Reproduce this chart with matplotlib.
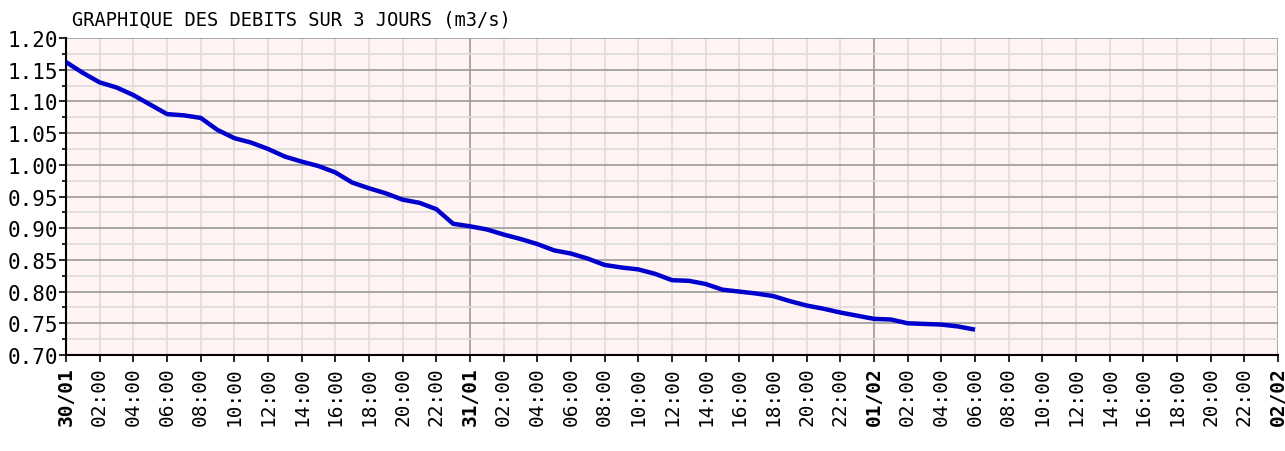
import matplotlib
matplotlib.use("Agg")
from matplotlib import pyplot as plt
from matplotlib.ticker import MultipleLocator, FixedLocator

# hours since 30/01 00:00
hours = list(range(0, 55))
debits = [
    1.162, 1.145, 1.130, 1.122, 1.110, 1.095, 1.080, 1.078, 1.074, 1.055,
    1.042, 1.035, 1.025, 1.013, 1.005, 0.998, 0.988, 0.972, 0.963, 0.955,
    0.945, 0.940, 0.930, 0.907, 0.903, 0.898, 0.890, 0.883, 0.875, 0.865,
    0.860, 0.852, 0.842, 0.838, 0.835, 0.828, 0.818, 0.817, 0.812, 0.803,
    0.800, 0.797, 0.793, 0.785, 0.778, 0.773, 0.767, 0.762, 0.757, 0.756,
    0.750, 0.749, 0.748, 0.745, 0.740,
]
day_labels = {0: "30/01", 24: "31/01", 48: "01/02", 72: "02/02"}

xticks = list(range(0, 73, 2))
xlabels = [day_labels.get(h, f"{h % 24:02d}:00") for h in xticks]

fig = plt.figure(figsize=(12.85, 4.52), dpi=100)
ax = fig.add_axes([66 / 1285, 1 - 356 / 452, 1212 / 1285, 317 / 452])
ax.set_facecolor("#fff3f3")

ax.set_xlim(0, 72)
ax.set_ylim(0.70, 1.20)

# grid
ax.yaxis.set_major_locator(MultipleLocator(0.05))
ax.yaxis.set_minor_locator(MultipleLocator(0.025))
ax.xaxis.set_major_locator(FixedLocator(xticks))
ax.grid(which="minor", axis="y", color="#dcdcdc", lw=1.2)
ax.grid(which="major", axis="y", color="#9a9a9a", lw=1.2)
for h in xticks:
    ax.axvline(h, color="#9a9a9a" if h % 24 == 0 else "#dcdcdc", lw=1.2, zorder=0.5)
ax.set_axisbelow(True)

ax.plot(hours, debits, color="#0000cc", lw=3.2, solid_capstyle="butt", zorder=3)

mono = "DejaVu Sans Mono"
ax.set_xticklabels(xlabels, rotation=90, fontfamily=mono, fontsize=14)
for lab, h in zip(ax.get_xticklabels(), xticks):
    if h % 24 == 0:
        lab.set_fontweight("bold")
ax.set_yticks([0.70 + 0.05 * i for i in range(11)])
ax.set_yticklabels([f"{0.70 + 0.05 * i:.2f}" for i in range(11)], fontfamily=mono, fontsize=15)
ax.tick_params(axis="both", which="both", direction="out", color="black", width=1.2)
ax.tick_params(axis="y", which="major", length=5, pad=1)
ax.tick_params(axis="y", which="minor", length=3)
ax.tick_params(axis="x", length=5, pad=3)

for side in ("top", "right"):
    ax.spines[side].set_visible(False)
ax.spines["left"].set_linewidth(1.5)
ax.spines["bottom"].set_linewidth(1.5)

fig.text(72 / 1285, 1 - 29 / 452, "GRAPHIQUE DES DEBITS SUR 3 JOURS (m3/s)",
         fontfamily=mono, fontsize=13.5, va="bottom", ha="left")

fig.savefig("out.png", dpi=100)
